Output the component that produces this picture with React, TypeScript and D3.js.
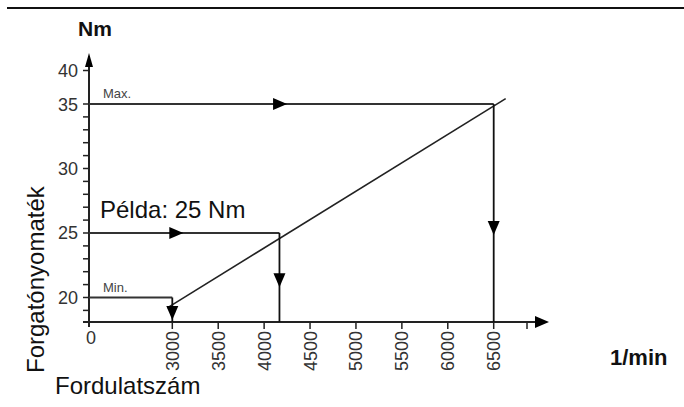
import React, { useEffect, useRef } from 'react';
import * as d3 from 'd3';

// tick values
const torqueTicks = [20, 25, 30, 35, 40];
const torqueMinor = d3.range(19, 36);
const rpmTicks = [3000, 3500, 4000, 4500, 5000, 5500, 6000, 6500];
const rpmExtraTick = 7000;

// characteristic line (rpm -> Nm)
const curve = [
  { rpm: 2820, nm: 19.2 },
  { rpm: 6680, nm: 35.8 },
];

// horizontal / vertical reading lines
const readings = [
  { name: 'Max.', rpm: 6500, nm: 35, hArrow: 4250, vArrow: 24.85 },
  { name: 'Példa: 25 Nm', rpm: 4167, nm: 25, hArrow: 3120, vArrow: 20.8 },
  { name: 'Min.', rpm: 3000, nm: 20, hArrow: null, vArrow: 18.25 },
];

const App = () => {
  const svgRef = useRef<SVGSVGElement>(null);

  useEffect(() => {
    const width = 684;
    const height = 407;
    const font = "'Liberation Sans', Arial, sans-serif";

    const svg = d3.select(svgRef.current);
    svg.selectAll('*').remove();
    svg.attr('width', width).attr('height', height);

    // broken axes: piecewise linear scales
    const x = d3.scaleLinear().domain([0, 3000, 6500, 7000]).range([89, 172.3, 493.7, 527]);
    const y = d3.scaleLinear().domain([18.1, 35, 40]).range([322, 104, 70.5]);

    const ink = '#222';

    // top rule
    svg.append('line')
      .attr('x1', 7).attr('x2', width).attr('y1', 8).attr('y2', 8)
      .attr('stroke', '#111').attr('stroke-width', 2);

    const arrow = (tx: number, ty: number, dir: 'right' | 'down' | 'up') => {
      const l = 14, w = 6;
      let pts: [number, number][];
      if (dir === 'right') pts = [[tx, ty], [tx - l, ty - w], [tx - l, ty + w]];
      else if (dir === 'down') pts = [[tx, ty], [tx - w, ty - l], [tx + w, ty - l]];
      else pts = [[tx, ty], [tx - w / 1.5, ty + l], [tx + w / 1.5, ty + l]];
      svg.append('path')
        .attr('d', d3.line()(pts) + 'Z')
        .attr('fill', '#000');
    };

    // y axis
    svg.append('line')
      .attr('x1', x(0)).attr('x2', x(0)).attr('y1', 327).attr('y2', 56)
      .attr('stroke', ink).attr('stroke-width', 2);
    arrow(x(0), 53, 'up');

    // x axis
    svg.append('line')
      .attr('x1', 83).attr('x2', 538).attr('y1', y(18.1)).attr('y2', y(18.1))
      .attr('stroke', ink).attr('stroke-width', 2);
    arrow(549, y(18.1), 'right');

    // y ticks
    svg.selectAll('.ytick')
      .data([...torqueMinor, 40])
      .enter().append('line')
      .attr('x1', x(0) - 6).attr('x2', x(0))
      .attr('y1', (d) => y(d)).attr('y2', (d) => y(d))
      .attr('stroke', ink).attr('stroke-width', 1.5);

    svg.selectAll('.ylabel')
      .data(torqueTicks)
      .enter().append('text')
      .attr('x', 78).attr('y', (d) => y(d) + 6.5)
      .attr('text-anchor', 'end')
      .attr('font-family', font).attr('font-size', 18)
      .attr('fill', '#333')
      .text((d) => d);

    // x ticks
    svg.selectAll('.xtick')
      .data([...rpmTicks, rpmExtraTick])
      .enter().append('line')
      .attr('x1', (d) => x(d)).attr('x2', (d) => x(d))
      .attr('y1', y(18.1)).attr('y2', y(18.1) + 7)
      .attr('stroke', ink).attr('stroke-width', 1.5);

    svg.selectAll('.xlabel')
      .data(rpmTicks)
      .enter().append('text')
      .attr('transform', (d) => `translate(${x(d) + 6.5},${y(18.1) + 9}) rotate(-90)`)
      .attr('text-anchor', 'end')
      .attr('font-family', font).attr('font-size', 18)
      .attr('fill', '#333')
      .text((d) => d);

    svg.append('text')
      .attr('x', x(0) + 2).attr('y', 344)
      .attr('text-anchor', 'middle')
      .attr('font-family', font).attr('font-size', 18)
      .attr('fill', '#333')
      .text('0');

    // characteristic line
    svg.append('path')
      .datum(curve)
      .attr('fill', 'none')
      .attr('stroke', ink).attr('stroke-width', 1.6)
      .attr('d', d3.line<{ rpm: number; nm: number }>().x((d) => x(d.rpm)).y((d) => y(d.nm)));

    // reading lines
    readings.forEach((r) => {
      svg.append('line')
        .attr('x1', x(0)).attr('x2', x(r.rpm))
        .attr('y1', y(r.nm)).attr('y2', y(r.nm))
        .attr('stroke', '#333').attr('stroke-width', 1.8);
      svg.append('line')
        .attr('x1', x(r.rpm)).attr('x2', x(r.rpm))
        .attr('y1', y(r.nm)).attr('y2', y(18.1))
        .attr('stroke', '#111').attr('stroke-width', 1.8);
      if (r.hArrow !== null) arrow(x(r.hArrow), y(r.nm), 'right');
      arrow(x(r.rpm), y(r.vArrow), 'down');
    });

    // small labels
    svg.append('text')
      .attr('x', 103).attr('y', y(35) - 6)
      .attr('font-family', font).attr('font-size', 13)
      .attr('fill', '#444')
      .text(readings[0].name);
    svg.append('text')
      .attr('x', 103).attr('y', y(20) - 5)
      .attr('font-family', font).attr('font-size', 13)
      .attr('fill', '#444')
      .text(readings[2].name);
    svg.append('text')
      .attr('x', 100).attr('y', 218)
      .attr('font-family', font).attr('font-size', 24)
      .attr('fill', '#111')
      .text(readings[1].name);

    // axis titles
    svg.append('text')
      .attr('x', 78).attr('y', 36)
      .attr('font-family', font).attr('font-size', 21).attr('font-weight', 'bold')
      .attr('fill', '#111')
      .text('Nm');
    svg.append('text')
      .attr('x', 610).attr('y', 365)
      .attr('font-family', font).attr('font-size', 22).attr('font-weight', 'bold')
      .attr('fill', '#111')
      .text('1/min');
    svg.append('text')
      .attr('transform', 'translate(44,373) rotate(-90)')
      .attr('font-family', font).attr('font-size', 24)
      .attr('fill', '#111')
      .text('Forgatónyomaték');
    svg.append('text')
      .attr('x', 55).attr('y', 394)
      .attr('font-family', font).attr('font-size', 24)
      .attr('fill', '#111')
      .text('Fordulatszám');
  }, []);

  return <svg ref={svgRef} style={{ position: 'absolute', left: 0, top: 0 }}></svg>;
};

export default App;
